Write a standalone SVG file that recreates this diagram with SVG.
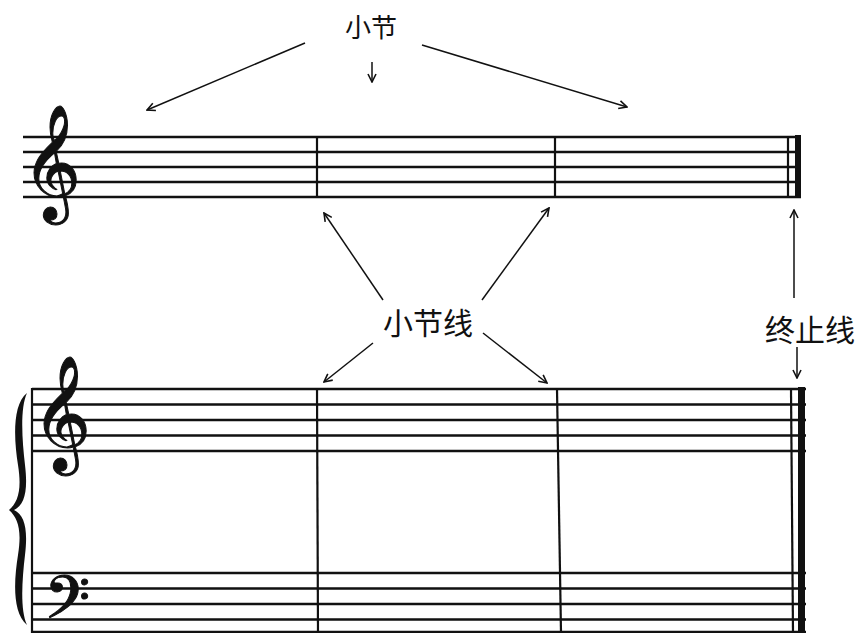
<svg xmlns="http://www.w3.org/2000/svg" width="860" height="633" viewBox="0 0 860 633">
<style>
.staff{stroke:#111;stroke-width:2.5;fill:none}
.bar{stroke:#111;stroke-width:2.2;fill:none}
.arr{stroke:#111;stroke-width:1.5;fill:none;marker-end:url(#ah)}
.lbl{font-family:"Noto Sans CJK SC","Noto Sans CJK JP",sans-serif;fill:#111;text-anchor:middle}
.clef{font-family:"DejaVu Sans","Noto Sans",serif;fill:#111;stroke:#111;stroke-width:1}
</style>
<defs>
<marker id="ah" viewBox="0 0 10 10" refX="9" refY="5" markerWidth="10" markerHeight="10" markerUnits="userSpaceOnUse" orient="auto">
<path d="M1,1 L9,5 L1,9" fill="none" stroke="#111" stroke-width="1.6"/>
</marker>
</defs>
<rect width="860" height="633" fill="#fff"/>
<g id="top-staff">
<path class="staff" d="M23,137H801M23,152H795M23,167H795M23,182H795M23,197H801"/>
<line class="bar" x1="317" y1="137" x2="317" y2="197"/>
<line class="bar" x1="555" y1="137" x2="555" y2="197"/>
<line class="bar" x1="788" y1="137" x2="788" y2="197"/>
<rect x="795" y="135" width="6" height="63" fill="#111"/>
<text class="clef" x="22" y="196" font-size="100">𝄞</text>
</g>
<g id="grand-staff">
<path class="staff" d="M32,389H806M32,404.5H806M32,420H806M32,435.5H806M32,451H806"/>
<path class="staff" d="M32,573H806M32,588.5H806M32,604H806M32,619.5H806M32,632H806"/>
<line class="bar" x1="32" y1="388" x2="32" y2="633"/>
<line class="bar" x1="317" y1="389" x2="318" y2="633"/>
<line class="bar" x1="557" y1="389" x2="561" y2="633"/>
<line class="bar" x1="791" y1="389" x2="793" y2="633"/>
<rect x="798" y="387" width="7" height="246" fill="#111"/>
<path d="M27,393 C12,405 14,440 18,465 C22,490 18,502 9,510 C18,518 22,530 18,555 C14,580 12,612 27,625 C20,610 22,580 25,555 C28,530 25,515 14,510 C25,505 28,490 25,465 C22,440 20,408 27,393 Z" fill="#111"/>
<text class="clef" x="32" y="447" font-size="100">𝄞</text>
<text class="clef" x="44" y="630" font-size="72">𝄢</text>
</g>
<g id="label-xiaojie">
<text class="lbl" x="371" y="37" font-size="26">小节</text>
</g>
<g id="label-xiaojiexian">
<text class="lbl" x="428" y="334" font-size="30">小节线</text>
</g>
<g id="label-zhongzhixian">
<text class="lbl" x="810" y="341" font-size="30">终止线</text>
</g>
<g id="connectors">
<line class="arr" x1="305" y1="43" x2="147" y2="110"/>
<line class="arr" x1="372" y1="62" x2="372" y2="82"/>
<line class="arr" x1="422" y1="45" x2="627" y2="107"/>
<line class="arr" x1="383" y1="300" x2="324" y2="213"/>
<line class="arr" x1="482" y1="300" x2="549" y2="208"/>
<line class="arr" x1="373" y1="343" x2="324" y2="382"/>
<line class="arr" x1="483" y1="333" x2="547" y2="383"/>
<line class="arr" x1="794" y1="298" x2="794" y2="210"/>
<line class="arr" x1="797" y1="347" x2="797" y2="378"/>
</g>
</svg>
